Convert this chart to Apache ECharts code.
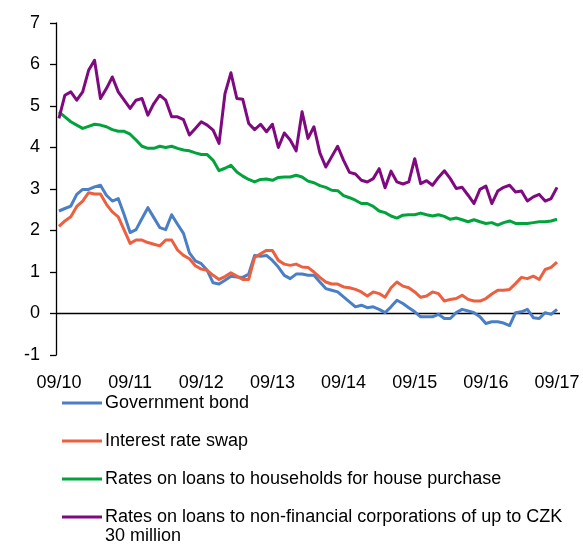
<!DOCTYPE html>
<html>
<head>
<meta charset="utf-8">
<script src="https://cdn.jsdelivr.net/npm/echarts@6/dist/echarts.min.js"></script>
<style>
  html, body { margin: 0; padding: 0; background: #fff; }
  #chart { width: 583px; height: 544px; }
</style>
</head>
<body>
<div id="chart"></div>
<script>
// Monthly observations, September 2010 - September 2017 (per cent)
const months = [];
for (let y = 2010; y <= 2017; y++) {
  for (let m = 1; m <= 12; m++) {
    if ((y === 2010 && m < 9) || (y === 2017 && m > 9)) continue;
    months.push(String(m).padStart(2, '0') + '/' + String(y).slice(2));
  }
}

const govBond = [
  2.47, 2.53, 2.59, 2.87, 2.99, 2.99, 3.05, 3.09, 2.85, 2.71, 2.77, 2.38,
  1.95, 2.02, 2.29, 2.55, 2.31, 2.07, 2.02, 2.38, 2.15, 1.93, 1.46, 1.27,
  1.20, 1.04, 0.74, 0.71, 0.80, 0.90, 0.88, 0.87, 0.95, 1.40, 1.38, 1.40,
  1.28, 1.12, 0.92, 0.84, 0.95, 0.95, 0.92, 0.92, 0.76, 0.60, 0.56, 0.52,
  0.40, 0.28, 0.16, 0.20, 0.14, 0.16, 0.10, 0.02, 0.16, 0.32, 0.24, 0.14,
  0.04, -0.08, -0.08, -0.08, -0.02, -0.12, -0.12, 0.02, 0.10, 0.06, 0.02, -0.08,
  -0.24, -0.20, -0.20, -0.23, -0.29, 0.02, 0.04, 0.10, -0.10, -0.12, 0.02, -0.02,
  0.10
];

const irSwap = [
  2.10, 2.23, 2.33, 2.58, 2.71, 2.91, 2.88, 2.88, 2.63, 2.45, 2.33, 2.01,
  1.69, 1.77, 1.77, 1.71, 1.67, 1.63, 1.77, 1.77, 1.53, 1.40, 1.32, 1.15,
  1.07, 1.04, 0.92, 0.82, 0.89, 0.98, 0.90, 0.82, 0.82, 1.35, 1.44, 1.52,
  1.52, 1.28, 1.19, 1.16, 1.19, 1.12, 1.11, 1.00, 0.87, 0.76, 0.71, 0.71,
  0.64, 0.62, 0.58, 0.52, 0.42, 0.52, 0.48, 0.39, 0.62, 0.76, 0.66, 0.62,
  0.52, 0.39, 0.42, 0.52, 0.48, 0.30, 0.34, 0.36, 0.44, 0.34, 0.30, 0.30,
  0.36, 0.47, 0.56, 0.56, 0.58, 0.72, 0.87, 0.84, 0.90, 0.82, 1.06, 1.11,
  1.24
];

const housePurchase = [
  4.86, 4.74, 4.62, 4.54, 4.46, 4.51, 4.56, 4.54, 4.50, 4.43, 4.39, 4.39,
  4.32, 4.18, 4.03, 3.98, 3.98, 4.03, 4.00, 4.03, 3.98, 3.94, 3.92, 3.87,
  3.83, 3.83, 3.69, 3.44, 3.50, 3.57, 3.41, 3.31, 3.23, 3.17, 3.23, 3.24,
  3.21, 3.28, 3.29, 3.29, 3.33, 3.29, 3.19, 3.15, 3.08, 3.04, 2.97, 2.96,
  2.84, 2.79, 2.73, 2.65, 2.65, 2.58, 2.47, 2.43, 2.35, 2.30, 2.37, 2.38,
  2.38, 2.42, 2.38, 2.35, 2.38, 2.34, 2.27, 2.30, 2.26, 2.21, 2.26, 2.21,
  2.17, 2.19, 2.13, 2.19, 2.23, 2.17, 2.17, 2.17, 2.19, 2.21, 2.21, 2.23,
  2.27
];

const corporateLoans = [
  4.70, 5.26, 5.34, 5.14, 5.34, 5.86, 6.10, 5.18, 5.42, 5.70, 5.34, 5.14,
  4.94, 5.14, 5.18, 4.78, 5.06, 5.26, 5.14, 4.74, 4.74, 4.67, 4.30, 4.46,
  4.62, 4.54, 4.42, 4.10, 5.30, 5.80, 5.18, 5.16, 4.58, 4.43, 4.56, 4.38,
  4.56, 4.00, 4.35, 4.18, 3.92, 4.86, 4.22, 4.50, 3.87, 3.53, 3.78, 4.03,
  3.69, 3.40, 3.36, 3.21, 3.17, 3.25, 3.49, 3.03, 3.43, 3.17, 3.12, 3.17,
  3.73, 3.13, 3.20, 3.09, 3.28, 3.44, 3.25, 3.01, 3.04, 2.85, 2.65, 2.99,
  3.07, 2.65, 2.95, 3.04, 3.09, 2.93, 2.95, 2.71, 2.81, 2.87, 2.71, 2.77,
  3.04
];

const seriesNames = [
  'Government bond',
  'Interest rate swap',
  'Rates on loans to households for house purchase',
  'Rates on loans to non-financial corporations of up to CZK 30 million'
];
const seriesColors = ['#4a7fc6', '#ec6040', '#00a33c', '#7f0a80'];
const seriesData = [govBond, irSwap, housePurchase, corporateLoans];

const FONT = 'Liberation Sans, Arial, sans-serif';
const FONT_SIZE = 18;

const chart = echarts.init(document.getElementById('chart'), null, { renderer: 'canvas' });

const legendBase = {
  orient: 'vertical',
  left: 62,
  padding: 0,
  itemWidth: 40,
  itemHeight: 3,
  itemGap: 19,
  icon: 'rect',
  selectedMode: false,
  textStyle: { fontFamily: FONT, fontSize: FONT_SIZE, color: '#000', lineHeight: 19, padding: [0, 0, 0, -2] }
};

const option = {
  animation: false,
  backgroundColor: '#fff',
  grid: { left: 56, right: 23, top: 23, bottom: 189, containLabel: false },
  xAxis: {
    type: 'category',
    data: months,
    boundaryGap: true,
    axisLine: { show: false, onZero: false },
    axisTick: { show: false },
    splitLine: { show: false },
    axisLabel: {
      interval: 11,
      margin: 19,
      fontFamily: FONT,
      fontSize: FONT_SIZE,
      color: '#000'
    }
  },
  yAxis: {
    type: 'value',
    min: -1,
    max: 7,
    interval: 1,
    axisLine: { show: true, lineStyle: { color: '#000', width: 1.3 } },
    axisTick: { show: true, length: 6, inside: false, lineStyle: { color: '#000', width: 1.3 } },
    splitLine: { show: false },
    axisLabel: { margin: 16, fontFamily: FONT, fontSize: FONT_SIZE, color: '#000' }
  },
  legend: [
    Object.assign({}, legendBase, { top: 393.5, data: seriesNames.slice(0, 3) }),
    // Two-line entry: an empty leading line keeps the first text line level with the icon
    Object.assign({}, legendBase, {
      top: 488.5,
      data: [seriesNames[3]],
      formatter: function (name) {
        return '\n' + name.replace(' 30 million', '\n30 million');
      }
    })
  ],
  series: seriesNames.map(function (name, k) {
    const s = {
      name: name,
      type: 'line',
      data: seriesData[k],
      symbol: 'none',
      smooth: false,
      color: seriesColors[k],
      lineStyle: { width: 3, color: seriesColors[k], join: 'round' },
      z: 2 + k
    };
    if (k === 0) {
      s.markLine = {
        silent: true,
        symbol: 'none',
        label: { show: false },
        lineStyle: { color: '#000', width: 1.3, type: 'solid' },
        data: [{ yAxis: 0 }],
        z: 1
      };
    }
    return s;
  })
};

chart.setOption(option);
</script>
</body>
</html>
